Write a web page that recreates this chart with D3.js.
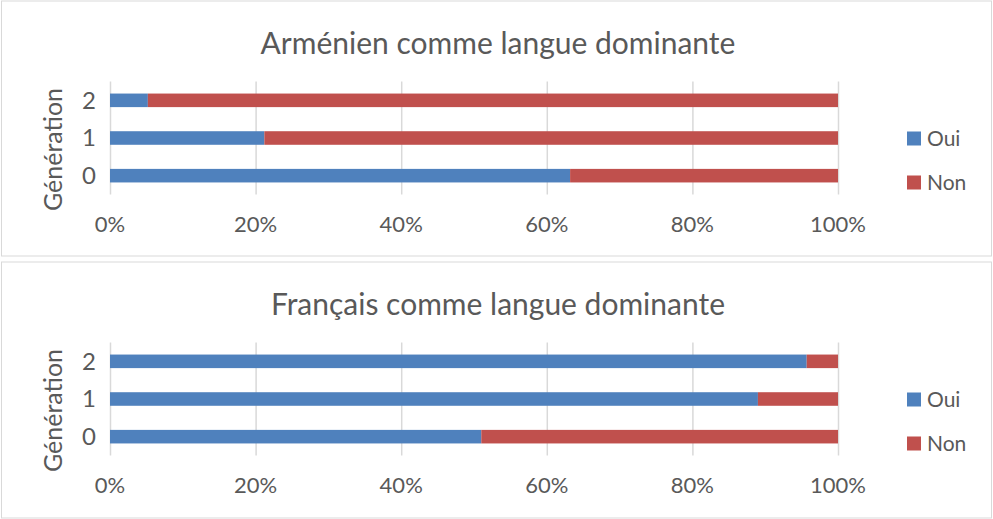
<!DOCTYPE html>
<html>
<head>
<meta charset="utf-8">
<script src="https://cdn.jsdelivr.net/npm/d3@7"></script>
<style>
  body { margin: 0; background: #fff; }
  svg text { font-family: Lato, "Open Sans", sans-serif; fill: #595959; }
</style>
</head>
<body>
<svg id="canvas" width="993" height="519"></svg>
<script>
var generations = ['0', '1', '2'];
var series = ['Oui', 'Non'];
var ticks = [0, 0.2, 0.4, 0.6, 0.8, 1];
var armenienOui = [0.632, 0.212, 0.052];
var francaisOui = [0.51, 0.89, 0.957];
var colors = ['#4f81bd', '#c0504d'];

var svg = d3.select('#canvas');

function drawPanel(top, height, title, oui) {
  var g = svg.append('g').attr('transform', 'translate(0,' + top + ')');
  g.append('rect')
    .attr('x', 1.5).attr('y', 0.5)
    .attr('width', 990).attr('height', height)
    .attr('fill', '#fff').attr('stroke', '#d9d9d9');

  g.append('text')
    .attr('x', 498).attr('y', 53)
    .attr('text-anchor', 'middle')
    .style('font-size', '30px')
    .text(title);

  var x = d3.scaleLinear().domain([0, 1]).range([110, 838]);
  var y = d3.scaleBand().domain(generations.slice().reverse())
    .range([81, 194]).paddingInner(0.64).paddingOuter(0.32);

  // gridlines
  g.selectAll('.grid').data(ticks).enter().append('line')
    .attr('x1', d => x(d) + 0.5).attr('x2', d => x(d) + 0.5)
    .attr('y1', 81).attr('y2', 194)
    .attr('stroke', '#d9d9d9').attr('stroke-width', 1.5);

  var rows = generations.map(function(gen, i) {
    return { gen: gen, parts: [[0, oui[i]], [oui[i], 1]] };
  });
  var row = g.selectAll('.row').data(rows).enter().append('g');
  row.selectAll('rect').data(d => d.parts.map((p, k) => ({ gen: d.gen, p: p, k: k })))
    .enter().append('rect')
    .attr('x', d => x(d.p[0]))
    .attr('width', d => x(d.p[1]) - x(d.p[0]))
    .attr('y', d => y(d.gen))
    .attr('height', y.bandwidth())
    .attr('fill', d => colors[d.k]);

  // y tick labels
  g.selectAll('.ylab').data(generations).enter().append('text')
    .attr('x', 89).attr('y', d => y(d) + y.bandwidth() / 2)
    .attr('dy', '0.35em').attr('text-anchor', 'middle')
    .style('font-size', '24px')
    .text(d => d);

  // x tick labels
  g.selectAll('.xlab').data(ticks).enter().append('text')
    .attr('x', d => x(d)).attr('y', 224)
    .attr('dy', '0.35em').attr('text-anchor', 'middle')
    .style('font-size', '22px')
    .text(d3.format('.0%'));

  g.append('text')
    .attr('transform', 'translate(53,' + 149 + ')rotate(-90)')
    .attr('dy', '0.35em').attr('text-anchor', 'middle')
    .style('font-size', '25px')
    .text('Génération');

  // legend
  var leg = g.selectAll('.leg').data(series).enter().append('g')
    .attr('transform', (d, i) => 'translate(907,' + (131 + i * 44) + ')');
  leg.append('rect').attr('width', 14).attr('height', 14)
    .attr('fill', (d, i) => colors[i]);
  leg.append('text').attr('x', 20).attr('y', 7).attr('dy', '0.35em')
    .style('font-size', '21px')
    .text(d => d);
}

drawPanel(0.5, 255, 'Arménien comme langue dominante', armenienOui);
drawPanel(261.5, 256, 'Français comme langue dominante', francaisOui);
</script>
</body>
</html>
